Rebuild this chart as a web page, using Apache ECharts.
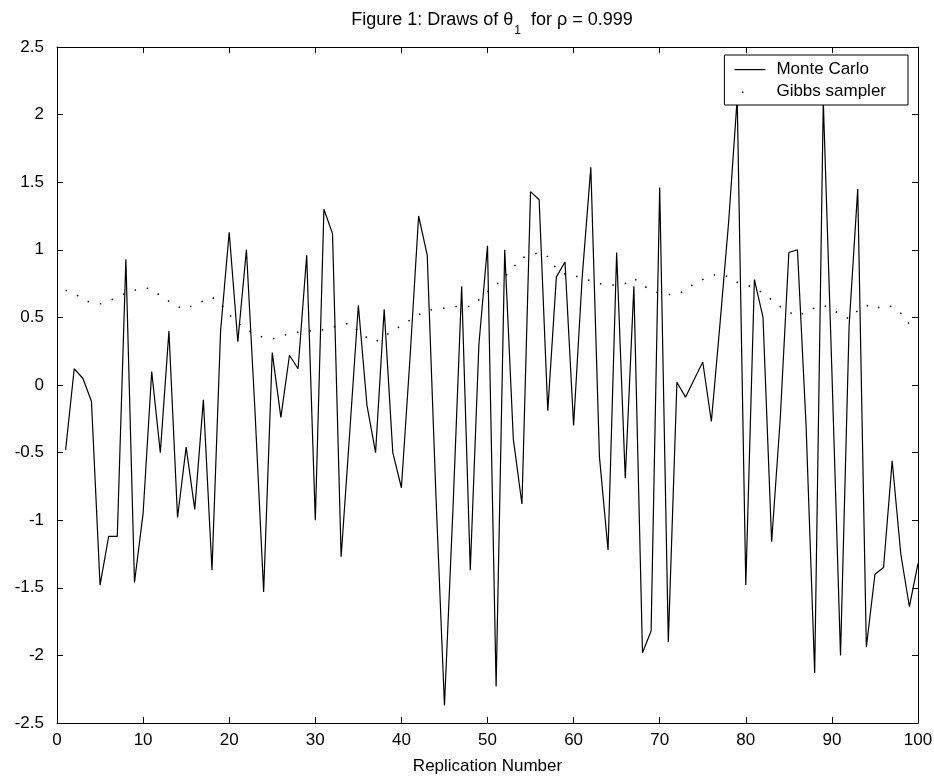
<!DOCTYPE html>
<html>
<head>
<meta charset="utf-8">
<script src="https://cdn.jsdelivr.net/npm/echarts@6/dist/echarts.min.js"></script>
<style>
html,body{margin:0;padding:0;background:#fff;}
#c{width:934px;height:777px;}
</style>
</head>
<body>
<div id="c"></div>
<script>
// Replication numbers 1..100
var replications = [];
for (var i = 1; i <= 100; i++) replications.push(i);

var monteCarlo = [
 -0.48, 0.12, 0.05, -0.12, -1.48, -1.12, -1.12, 0.93, -1.46, -0.95,
  0.10, -0.50, 0.40, -0.98, -0.46, -0.92, -0.11, -1.37, 0.40, 1.13,
  0.32, 1.00, -0.20, -1.53, 0.24, -0.24, 0.22, 0.12, 0.96, -1.00,
  1.30, 1.12, -1.27, -0.35, 0.59, -0.15, -0.50, 0.56, -0.50, -0.76,
  0.20, 1.25, 0.96, -0.80, -2.37, -0.90, 0.73, -1.37, 0.30, 1.03,
 -2.23, 1.00, -0.40, -0.88, 1.43, 1.37, -0.19, 0.80, 0.91, -0.30,
  0.80, 1.61, -0.53, -1.22, 0.98, -0.69, 0.73, -1.98, -1.82, 1.46,
 -1.90, 0.02, -0.09, 0.04, 0.17, -0.27, 0.45, 1.20, 2.12, -1.48,
  0.78, 0.50, -1.16, -0.25, 0.98, 1.00, -0.30, -2.13, 2.10, 0.10,
 -2.00, 0.44, 1.45, -1.94, -1.40, -1.35, -0.56, -1.25, -1.64, -1.32
];

var gibbs = [
  0.70, 0.68, 0.63, 0.61, 0.60, 0.62, 0.65, 0.68, 0.70, 0.72,
  0.71, 0.66, 0.62, 0.58, 0.56, 0.60, 0.62, 0.65, 0.60, 0.52,
  0.46, 0.41, 0.38, 0.35, 0.34, 0.36, 0.38, 0.39, 0.40, 0.40,
  0.41, 0.43, 0.44, 0.46, 0.40, 0.35, 0.32, 0.36, 0.40, 0.44,
  0.48, 0.52, 0.55, 0.56, 0.57, 0.58, 0.58, 0.58, 0.63, 0.69,
  0.74, 0.80, 0.87, 0.94, 0.96, 0.98, 0.95, 0.86, 0.82, 0.81,
  0.79, 0.77, 0.75, 0.74, 0.74, 0.75, 0.79, 0.74, 0.70, 0.68,
  0.67, 0.67, 0.70, 0.75, 0.78, 0.81, 0.82, 0.80, 0.76, 0.74,
  0.72, 0.68, 0.63, 0.58, 0.54, 0.51, 0.54, 0.57, 0.59, 0.56,
  0.52, 0.49, 0.55, 0.59, 0.56, 0.59, 0.58, 0.53, 0.45, 0.42
];

var seriesNames = ['Monte Carlo', 'Gibbs sampler'];
var xTicks = {min: 0, max: 100, interval: 10};
var yTicks = {min: -2.5, max: 2.5, interval: 0.5};

function pairs(vals) {
  return vals.map(function (v, i) { return [replications[i], v]; });
}

var FONT = 'Liberation Sans, Arial, Helvetica, sans-serif';
var FS = 17;

function axisCommon(extra) {
  var base = {
    axisLine: {show: true, onZero: false, lineStyle: {color: '#000', width: 1}},
    axisTick: {show: true, inside: true, length: 6, lineStyle: {color: '#000', width: 1}},
    splitLine: {show: false},
    axisLabel: {show: false}
  };
  for (var k in extra) base[k] = extra[k];
  return base;
}

var chart = echarts.init(document.getElementById('c'), null, {renderer: 'canvas'});
chart.setOption({
  backgroundColor: '#fff',
  animation: false,
  textStyle: {fontFamily: FONT, color: '#000'},
  title: {
    text: '{a|Figure 1: Draws of θ}{s|1}{a|  for ρ = 0.999}',
    left: 487, textAlign: 'center',
    top: 4,
    textStyle: {
      fontWeight: 'normal',
      rich: {
        a: {fontFamily: FONT, fontSize: 18, fontWeight: 'normal', color: '#000', lineHeight: 22, verticalAlign: 'middle'},
        s: {fontFamily: FONT, fontSize: 12, fontWeight: 'normal', color: '#000', lineHeight: 22, verticalAlign: 'bottom', padding: [0, 0, -6, 1]}
      }
    }
  },
  legend: {
    orient: 'vertical',
    right: 26,
    top: 55,
    backgroundColor: '#fff',
    borderColor: '#000',
    borderWidth: 1,
    borderRadius: 0,
    padding: [6, 22, 5, 10],
    itemWidth: 31,
    itemHeight: 14,
    itemGap: 5,
    itemStyle: {borderWidth: 0},
    textStyle: {fontFamily: FONT, fontSize: FS, color: '#000', padding: [0, 0, 0, 6]},
    data: [
      {name: seriesNames[0], icon: 'path://M0,0M31,14M0,6.5L31,6.5L31,7.7L0,7.7Z'},
      {name: seriesNames[1], icon: 'path://M0,0M31,14M7.5,7L9,7L9,8.5L7.5,8.5Z'}
    ]
  },
  grid: {left: 57, right: 16, top: 47, bottom: 54, containLabel: false, outerBoundsMode: 'none'},
  xAxis: [
    axisCommon({
      type: 'value', position: 'bottom',
      min: xTicks.min, max: xTicks.max, interval: xTicks.interval,
      axisLabel: {show: true, color: '#000', fontFamily: FONT, fontSize: FS, margin: 9},
      name: 'Replication Number', nameLocation: 'middle', nameGap: 35,
      nameTextStyle: {color: '#000', fontFamily: FONT, fontSize: FS}
    }),
    axisCommon({
      type: 'value', position: 'top',
      min: xTicks.min, max: xTicks.max, interval: xTicks.interval
    })
  ],
  yAxis: [
    axisCommon({
      type: 'value', position: 'left',
      min: yTicks.min, max: yTicks.max, interval: yTicks.interval,
      axisLabel: {show: true, color: '#000', fontFamily: FONT, fontSize: FS, margin: 13}
    }),
    axisCommon({
      type: 'value', position: 'right',
      min: yTicks.min, max: yTicks.max, interval: yTicks.interval
    })
  ],
  series: [
    {
      name: seriesNames[0], type: 'line', xAxisIndex: 0, yAxisIndex: 0,
      data: pairs(monteCarlo), showSymbol: false, symbol: 'none',
      lineStyle: {color: '#000', width: 1.2}, itemStyle: {color: '#000'}, z: 3
    },
    {
      name: seriesNames[1], type: 'line', xAxisIndex: 0, yAxisIndex: 0,
      data: pairs(gibbs), showSymbol: false, symbol: 'none',
      lineStyle: {color: '#000', width: 1.5, type: [1.5, 11]}, itemStyle: {color: '#000'}, z: 2
    }
  ]
});
</script>
</body>
</html>
